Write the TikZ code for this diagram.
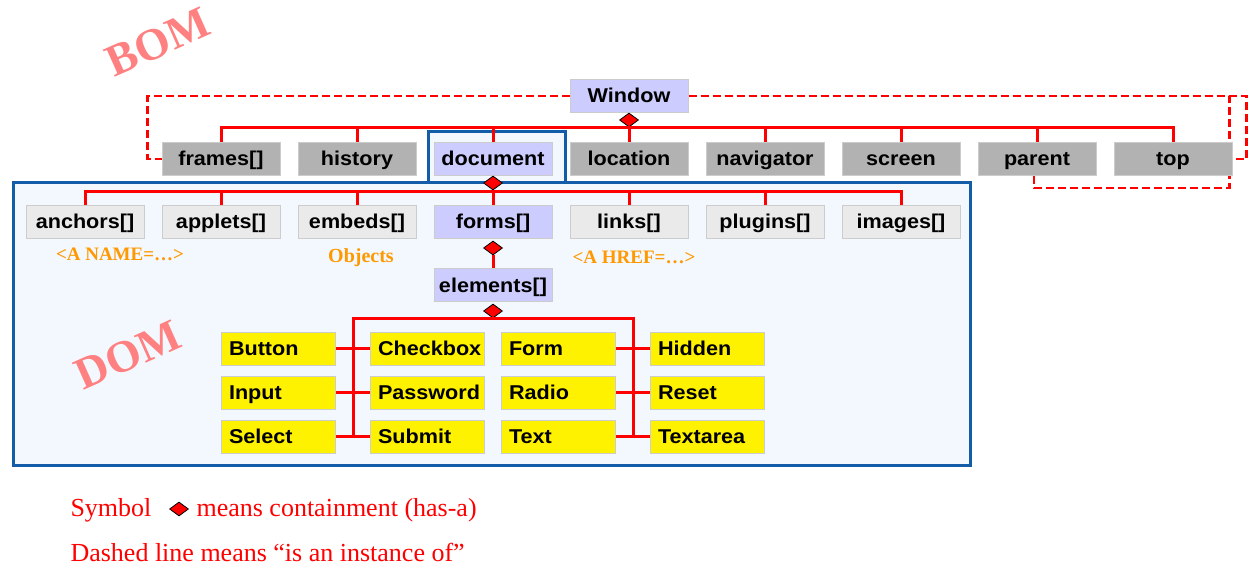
\documentclass[tikz,border=0pt]{standalone}
\usepackage{fontspec}
\setmainfont{Liberation Serif}
\newfontfamily\boxfont[FakeStretch=1.08]{Liberation Sans}
\usetikzlibrary{shapes.geometric, positioning}
\definecolor{bomred}{RGB}{255,0,0}
\definecolor{domblue}{RGB}{18,92,168}
\definecolor{domfill}{RGB}{243,248,255}
\definecolor{boxlav}{RGB}{204,204,255}
\definecolor{boxgray}{RGB}{178,178,178}
\definecolor{boxlight}{RGB}{234,234,234}
\definecolor{boxedge}{RGB}{204,204,204}
\definecolor{tagorange}{RGB}{255,153,0}
\definecolor{wmpink}{RGB}{255,128,128}
\tikzset{
  objbox/.style={rectangle, draw=boxedge, line width=1pt, fill=#1,
                 minimum width=118pt, minimum height=33pt, inner sep=0pt,
                 text height=15pt, text depth=1pt,
                 font=\boxfont\bfseries\fontsize{20}{22}\selectfont},
  typebox/.style={rectangle, draw=boxedge, line width=1pt, fill=yellow,
                  text width=98pt, inner xsep=8pt, inner ysep=0pt,
                  minimum height=33pt, align=left,
                  text height=15pt, text depth=1pt,
                  font=\boxfont\bfseries\fontsize{20}{22}\selectfont},
  haslink/.style={draw=bomred, line width=3pt},
  instline/.style={draw=bomred, line width=2.6pt, dash pattern=on 8pt off 4pt},
  hasmark/.style={diamond, draw=black, line width=0.8pt, fill=bomred,
                  minimum width=19pt, minimum height=14pt, inner sep=0pt},
  tagtext/.style={text=tagorange, font=\bfseries\fontsize{19}{21}\selectfont},
  wmark/.style={text=wmpink, font=\bfseries\fontsize{45}{50}\selectfont, rotate=24},
  legend/.style={text=bomred, font=\fontsize{26}{30}\selectfont},
}
\begin{document}
\begin{tikzpicture}[x=1pt, y=-1pt]
\useasboundingbox (0,0) rectangle (1257,569);
% watermarks
\node[wmark] (bomMark) at (158,42) {BOM};
% DOM frame
\draw[domblue, line width=3pt, fill=domfill] (428,183) |- (565,132) -- (565,183);
\draw[domblue, line width=3pt, fill=domfill] (13,183) rectangle (970,465);
\node[wmark] (domMark) at (128,355) {DOM};
% window and its members
\node[objbox=boxlav] (window) at (629,96) {Window};
\foreach \nm/\lbl/\clr [count=\i from 0] in {frames/frames[]/boxgray, history/history/boxgray,
    document/document/boxlav, location/location/boxgray, navigator/navigator/boxgray,
    screen/screen/boxgray, parent/parent/boxgray, topwin/top/boxgray}
  \node[objbox=\clr] (\nm) at (221+136*\i,159) {\lbl};
\node[hasmark] (winHas) at (629,120) {};
\coordinate (winBus) at (629,128);
\draw[haslink] (winHas) -- (winBus);
\foreach \nm in {frames, history, document, location, navigator, screen, parent, topwin}
  \draw[haslink] (\nm.north) |- (winBus);
% document members
\foreach \nm/\lbl/\clr [count=\i from 0] in {anchors/anchors[]/boxlight, applets/applets[]/boxlight,
    embeds/embeds[]/boxlight, forms/forms[]/boxlav, links/links[]/boxlight,
    plugins/plugins[]/boxlight, images/images[]/boxlight}
  \node[objbox=\clr] (\nm) at (85+136*\i,222) {\lbl};
\node[hasmark] (docHas) at (493,183) {};
\coordinate (docBus) at (493,192);
\draw[haslink] (docHas) -- (docBus);
\foreach \nm in {anchors, applets, embeds, forms, links, plugins, images}
  \draw[haslink] (\nm.north) |- (docBus);
\node[tagtext] (nameTag) at (120,254) {<A NAME=…>};
\node[tagtext, font=\bfseries\fontsize{20}{22}\selectfont] (objTag) at (361,258) {Objects};
\node[tagtext] (hrefTag) at (634,257) {<A HREF=…>};
% forms and elements
\node[objbox=boxlav] (elements) at (493,285) {elements[]};
\node[hasmark] (formsHas) at (493,248) {};
\draw[haslink] (formsHas) -- (elements);
\node[hasmark] (elemHas) at (493,311) {};
\coordinate (elemBus) at (493,318);
\coordinate (spineL) at (353,318);
\coordinate (spineR) at (633,318);
\foreach \nm/\lbl/\x/\y in {btn/Button/278/348.5, chk/Checkbox/427/348.5, frm/Form/558/348.5, hid/Hidden/707/348.5,
    inp/Input/278/392.5, pwd/Password/427/392.5, rad/Radio/558/392.5, rst/Reset/707/392.5,
    sel/Select/278/436.5, sub/Submit/427/436.5, txt/Text/558/436.5, txa/Textarea/707/436.5}
  \node[typebox] (\nm) at (\x,\y) {\lbl};
\draw[haslink] (elemHas) -- (elemBus);
\draw[haslink] (spineL |- sel) -- (spineL) -- (spineR) -- (spineR |- txa);
\foreach \l/\r in {btn/chk, inp/pwd, sel/sub, frm/hid, rad/rst, txt/txa}
  \draw[haslink] (\l.east) -- (\r.west);
% instance-of lines
\draw[instline] (window.west) -| ([xshift=-14pt]frames.west) -- (frames.west);
\draw[instline] (window.east) -| ([xshift=-3pt]topwin.north east);
\draw[instline] (window.east) -| ([xshift=14pt]topwin.east) -- (topwin.east);
\draw[instline] ([xshift=-3pt]parent.south) -- ++(0,12) -| ([xshift=-3pt]topwin.south east);
% legend
\node[legend, anchor=base west] (symTxt) at (67,516) {Symbol};
\node[hasmark] (legendHas) at (179,509) {};
\node[legend, anchor=base west] (hasTxt) at (193,516) {means containment (has-a)};
\node[legend, anchor=base west] (instTxt) at (67,561) {Dashed line means “is an instance of”};
\end{tikzpicture}
\end{document}
